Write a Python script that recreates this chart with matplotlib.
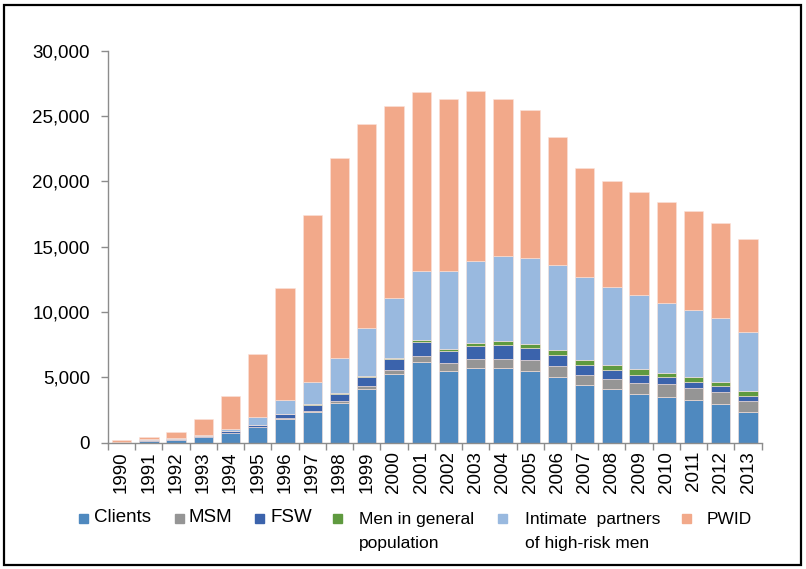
import numpy as np
import matplotlib.pyplot as plt
from matplotlib.patches import Rectangle
from matplotlib.ticker import FuncFormatter, FixedLocator

years = list(range(1990, 2014))

clients = [50, 120, 220, 400, 710, 1190, 1830, 2380, 3070, 4070, 5240, 6210,
           5470, 5700, 5700, 5470, 5040, 4450, 4070, 3700, 3500, 3270, 2990, 2320]
msm = [0, 5, 10, 10, 20, 30, 50, 70, 150, 300, 340, 440,
       620, 670, 740, 820, 810, 740, 820, 900, 970, 900, 870, 880]
fsw = [20, 80, 60, 80, 130, 150, 290, 460, 510, 640, 840, 1020,
       920, 1020, 1000, 920, 880, 790, 660, 590, 520, 510, 460, 380]
men_general = [0, 0, 0, 0, 5, 10, 10, 20, 80, 130, 80, 150,
               180, 230, 310, 310, 350, 360, 430, 430, 330, 360, 360, 350]
intimate = [20, 40, 50, 110, 180, 570, 1080, 1750, 2690, 3630, 4550, 5280,
            5910, 6270, 6550, 6630, 6510, 6310, 5930, 5660, 5340, 5140, 4850, 4560]
pwid = [80, 170, 500, 1180, 2530, 4830, 8560, 12730, 15300, 15610, 14700, 13720,
        13210, 13010, 12010, 11300, 9790, 8340, 8130, 7870, 7750, 7520, 7270, 7090]

series = [
    ('Clients', clients, '#4F89BF'),
    ('MSM', msm, '#959595'),
    ('FSW', fsw, '#3B63AC'),
    ('Men in general\npopulation', men_general, '#5F9A3F'),
    ('Intimate  partners\nof high-risk men', intimate, '#99B9DF'),
    ('PWID', pwid, '#F2A98A'),
]

fig = plt.figure(figsize=(8.06, 5.69), dpi=100)
ax = fig.add_axes([0.134, 0.222, 0.811, 0.689])

x = np.arange(len(years))
bottom = np.zeros(len(years))
for name, vals, color in series:
    vals = np.array(vals, dtype=float)
    ax.bar(x, vals, width=0.71, bottom=bottom, color=color,
           edgecolor='#FBE3DA', linewidth=0.4, zorder=2)
    bottom += vals

ax.set_xlim(-0.5, len(years) - 0.5)
ax.set_ylim(0, 30000)
ax.set_yticks(np.arange(0, 30001, 5000))
ax.yaxis.set_major_formatter(FuncFormatter(lambda v, p: f'{int(v):,}'))

ax.set_xticks(x)
ax.set_xticklabels([str(y) for y in years], rotation=90)
ax.xaxis.set_minor_locator(FixedLocator(np.arange(-0.5, len(years), 1.0)))
ax.tick_params(axis='x', which='major', length=0, pad=6)
ax.tick_params(axis='x', which='minor', length=5, color='#8C8C8C', width=1)
ax.tick_params(axis='y', length=5, color='#8C8C8C', width=1, pad=8)
for lab in ax.get_xticklabels() + ax.get_yticklabels():
    lab.set_fontfamily('Liberation Sans')
    lab.set_fontsize(13.5)

for s in ['top', 'right']:
    ax.spines[s].set_visible(False)
for s in ['left', 'bottom']:
    ax.spines[s].set_color('#8C8C8C')
    ax.spines[s].set_linewidth(1)

# legend drawn by hand so the squares sit on the first text line
W, H = 806, 569
legend_items = [
    # square x, text x, square top y, text top y, font size
    (79, 94, 514, 509, 13.5),
    (175, 188, 514, 509, 13.5),
    (255, 270, 514, 509, 13.5),
    (333, 359, 514, 512, 12.5),
    (498, 525, 514, 512, 12.5),
    (682, 707, 514, 512, 12.5),
]
for (sq_x, tx, sq_y, ty, fs), (label, _, color) in zip(legend_items, series):
    fig.patches.append(Rectangle((sq_x / W, 1 - (sq_y + 9) / H), 9 / W, 9 / H,
                                 transform=fig.transFigure, color=color))
    fig.text(tx / W, 1 - ty / H, label, fontsize=fs,
             family='Liberation Sans', va='top', ha='left', linespacing=1.76)

# outer frame
fig.patches.append(Rectangle((4 / W, 4 / H), 797 / W, 560 / H, transform=fig.transFigure,
                             fill=False, edgecolor='black', linewidth=1.6))

fig.savefig('out.png', dpi=100)
